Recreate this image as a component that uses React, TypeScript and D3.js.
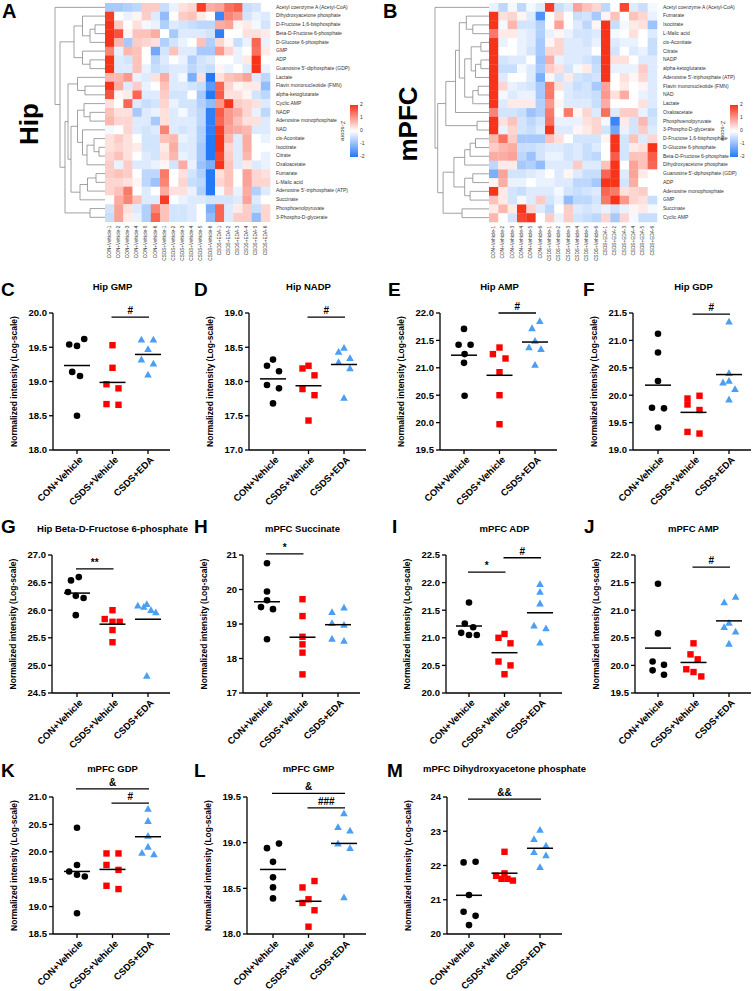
import React from "react";
import * as d3 from "d3";

const FONT = "'Liberation Sans', Arial, Helvetica, sans-serif";

// ---------- Heatmap data ----------
const groups = ["CON+Vehicle", "CSDS+Vehicle", "CSDS+EDA"];
const sampleNames = groups.flatMap((g) => [1, 2, 3, 4, 5, 6].map((i) => `${g}-${i}`));

const hipRows = [
  "Acetyl coenzyme A (Acetyl-CoA)", "Dihydroxyacetone phosphate", "D-Fructose 1,6-bisphosphate",
  "Beta-D-Fructose 6-phosphate", "D-Glucose 6-phosphate", "GMP", "ADP", "Guanosine 5'-diphosphate (GDP)",
  "Lactate", "Flavin mononucleotide (FMN)", "alpha-ketoglutarate", "Cyclic AMP", "NADP",
  "Adenosine monophosphate", "NAD", "cis-Aconitate", "Isocitrate", "Citrate", "Oxaloacetate",
  "Fumarate", "L-Malic acid", "Adenosine 5'-triphosphate (ATP)", "Succinate", "Phosphoenolpyruvate",
  "3-Phospho-D-glycerate",
];
const hipZ = [
  [-0.8, -0.8, -0.7, -0.6, 0.5, 0.5, -0.5, -0.2, 0.3, 0.4, 1.9, 0.8, 0.9, 1.4, 1.6, -0.5, -0.4, 0.0],
  [1.9, 0, -0.2, 0.1, 0.5, -0.3, -1.0, 0, 0.5, 0.6, 0.2, 0, -1.8, 1.2, 1.0, -0.4, -0.2, -0.3],
  [2.0, 0.5, 0, 0.3, -0.1, -0.2, -0.7, -0.3, -0.4, -0.5, -0.6, -0.6, 0.8, 0.9, 0.1, 0.2, -0.1, -0.4],
  [2.0, 1.7, 0.1, 0.6, 0.6, 0.8, 0, -0.8, -0.3, -0.3, -0.3, -0.4, -1.9, 0, 0, 0.3, 0.3, 0.2],
  [2.0, 0.7, -0.8, 0.5, 0.4, 0.3, -0.7, -0.4, -0.2, 0, 0.6, -0.7, 0.4, 0.1, -0.5, -0.2, 1.5, -0.2],
  [1.2, -0.2, 0.7, 0.6, 0, -1.3, -0.4, 0.6, -0.3, -0.3, -0.8, -0.8, 1.0, 0.4, -0.2, 0, 1.4, 0.2],
  [2.0, -0.3, -0.4, 0.6, 0, -0.6, -0.3, 0, -0.2, -0.7, -0.4, -0.3, 0, 0, -0.2, 0.2, 2.0, 0],
  [2.0, -0.3, -0.3, 0.6, -0.2, -0.5, -0.4, -0.3, -0.3, -0.6, -0.4, -0.5, 0.1, -0.2, 0, -0.3, 2.0, -0.2],
  [0.7, 0.7, 1.0, -0.2, -0.3, 0.3, 0.8, -0.3, -0.1, -1.2, 0.3, -2.0, 0.3, 0.6, 0.7, 0.9, -0.3, -0.6],
  [2.0, 0.8, -0.3, 0.5, -0.2, 0, 0.6, -0.3, -0.3, -0.4, -0.5, -1.5, 1.5, 0.4, 0.1, 0.2, 0.2, -1.0],
  [1.7, 0.1, 0.2, 1.5, -0.3, -0.3, 0.5, -0.4, -0.4, 0, -0.8, -2.0, 1.6, 0.3, 0.3, 0.1, -0.4, -0.6],
  [0.3, 0, 1.5, -0.3, -0.5, -0.4, 0.4, -0.2, -0.4, -0.4, -0.7, -1.0, 1.0, 2.0, 0.5, 0.4, 0.3, -0.3],
  [0.6, 0.3, 0.3, -0.8, -0.3, -0.2, 0.3, -0.3, -0.1, -0.4, -0.6, -1.9, 1.6, 1.0, 0.8, 0.4, -0.2, -0.6],
  [0.7, 0.4, 0.4, -0.3, -0.3, -0.8, 0.3, -0.3, -0.3, -0.3, -0.6, -1.9, 1.5, 1.0, 0.6, 0.3, 0.3, -0.3],
  [-0.1, 0, 0.4, -0.3, -0.4, -0.3, 1.2, -0.3, -0.4, -0.3, -0.7, -1.9, 1.9, 0.9, 0.8, 0.7, -0.3, -0.3],
  [0.3, 0.5, 0.3, 0, -0.4, -0.4, 0.6, 0.7, -0.2, -0.3, -0.7, -2.0, 2.0, 0.7, -0.3, 0.8, 0, -0.2],
  [0.3, 0.4, 0.3, 0.2, -0.4, -0.4, 0.2, 0.8, -0.3, -0.3, -0.8, -2.0, 2.0, 0.4, -0.3, 0.8, 0, 0],
  [0.4, 0.6, 0.3, 0, -0.3, -0.4, 0.3, 0.7, -0.2, -0.3, -0.8, -2.0, 1.8, 0.5, -0.3, 0.7, 0, -0.2],
  [0.5, -0.2, 0.5, -0.3, -0.3, -0.2, 0.1, -0.4, 0.8, -0.2, -0.9, -1.2, 2.0, 0.6, -0.3, 0.2, -0.3, -0.2],
  [0.5, 0.6, 0.5, 0, -0.6, -0.6, 1.3, 0, 0.3, -0.4, -0.7, -2.0, 0.3, 0.6, 0, 0.9, 0.4, 0.3],
  [0.4, 0.4, 0.3, 0.1, -0.6, -0.9, 1.2, 0, 0.4, -0.5, -0.6, -2.0, 0.4, 0.6, 0, 0.9, 0.4, 0.4],
  [0.4, 0.6, 1.3, 0, -0.3, 0, 0.8, 0.3, 0.3, -0.2, -0.7, -2.0, -0.1, 0.5, -0.2, 0.8, -0.7, -0.3],
  [0, 0.8, 1.2, 0.6, -0.3, -0.3, 1.9, 0, -0.2, -0.3, -0.3, -0.4, -0.4, -0.4, -0.3, 0.9, -0.3, 0],
  [-0.4, 0.9, 0.3, -0.3, -0.7, 1.2, 0.6, -0.4, -0.4, -0.3, 0, -1.2, 1.5, -0.3, 0.2, 0.5, -0.5, 0.4],
  [-0.5, 0.9, 0.2, -0.2, -0.7, 1.5, 0.6, -0.4, -0.4, -0.3, 0, -1.0, 1.5, -0.3, 0.5, 0.5, -1.0, 0.4],
];
// dendrogram: [height, left, right], leaves are row indices
const hipTree: any = [1.0, 0, [0.9,
  [0.62, [0.45, 1, [0.3, [0.2, 2, 3], 4]], [0.45, 5, [0.3, 6, 7]]],
  [0.8,
    [0.74,
      [0.55, 8, [0.4, 9, 10]],
      [0.68,
        [0.55, [0.42, 11, [0.3, 12, 13]], [0.45, 14, [0.36, [0.22, 15, [0.12, 16, 17]], 18]]],
        [0.5, [0.35, [0.18, 19, 20], 21], 22]]],
    [0.3, 23, 24]]]];

const pfcRows = [
  "Acetyl coenzyme A (Acetyl-CoA)", "Fumarate", "Isocitrate", "L-Malic acid", "cis-Aconitate", "Citrate",
  "NADP", "alpha-ketoglutarate", "Adenosine 5'-triphosphate (ATP)", "Flavin mononucleotide (FMN)", "NAD",
  "Lactate", "Oxaloacetate", "Phosphoenolpyruvate", "3-Phospho-D-glycerate", "D-Fructose 1,6-bisphosphate",
  "D-Glucose 6-phosphate", "Beta-D-Fructose 6-phosphate", "Dihydroxyacetone phosphate",
  "Guanosine 5'-diphosphate (GDP)", "ADP", "Adenosine monophosphate", "GMP", "Succinate", "Cyclic AMP",
];
const pfcZ = [
  [-0.2, -0.6, -0.1, -0.6, -0.1, -0.3, 1.9, -0.5, -0.3, 0.9, 0.6, 0.4, -0.6, 0, 1.8, -0.3, -0.5, -0.1],
  [2.0, 0.3, 0.4, 0.1, -0.3, -1.6, 0, 0.4, 0, -0.5, -0.4, -0.8, 0.1, 0.6, 0, 0.6, 0.4, -0.2],
  [2.0, -0.1, 0.7, -0.4, -0.4, -0.7, 0, 0.9, 0, -0.3, -0.6, 0.1, 2.0, -0.5, -0.1, 0.2, 0.3, -0.9],
  [1.3, 0.2, 0.2, -0.2, -0.3, -0.7, -0.2, 0.1, -0.2, -0.4, -0.4, -0.3, 2.0, -0.1, 0, 0.3, 0, -0.3],
  [2.0, -0.2, 0, -0.2, -0.3, -0.8, 0.1, 0.4, -0.3, -0.3, -0.4, -0.2, 2.0, -0.3, -0.2, -0.2, 0, -0.5],
  [2.0, 0, 0, -0.2, -0.4, -0.8, 0.4, 0.4, -0.3, -0.3, -0.3, 0, 2.0, -0.4, 0, -0.3, -0.2, -0.5],
  [2.0, -0.4, -0.3, -0.3, 0, -0.9, 0.8, -0.2, -0.3, -0.3, -0.4, -0.6, 2.0, 0.3, 0.3, 0, -0.3, -0.3],
  [2.0, -0.5, -0.5, -0.1, -0.3, -0.8, 0.5, 0.3, -0.4, -0.1, 0.2, -0.5, 2.0, -0.2, -0.2, -0.2, 0.5, -0.3],
  [2.0, -0.3, 0, 0, -0.3, -1.2, 0.1, -0.4, 0.2, -0.4, -0.5, -0.4, 2.0, 0, 0.3, 0.1, 0.4, -0.3],
  [2.0, 0.4, -0.2, -0.3, -0.4, -0.8, 1.3, 0.3, -0.3, -0.5, -0.4, -0.8, 0.9, 0, 0.2, 0, 0.1, -0.3],
  [2.0, -0.1, -0.3, -0.2, -0.2, -0.8, 1.3, 0, -0.3, -0.4, -0.4, -0.5, 1.0, 0.3, 0.8, 0, -0.2, -0.3],
  [2.0, -0.3, 0.2, 0.2, 0.2, -0.7, 1.0, 0.1, -0.3, -0.3, -0.3, -0.5, 0.8, 0, 0, 0, 0.3, -0.3],
  [1.2, -0.4, -0.4, -0.5, -0.9, -0.7, 1.3, 0, 1.3, 0.1, 0.4, -0.3, 1.4, -0.3, 0.5, 0.5, -0.2, -0.5],
  [2.0, 0.3, 0.6, -0.4, -0.6, -0.4, 1.4, -0.2, -0.2, -0.2, 0.3, 0.4, -0.1, -1.8, 0.2, -0.4, 0.7, -0.4],
  [2.0, -0.2, 0.4, -0.4, -0.5, -0.3, 2.0, -0.3, -0.3, 0.1, 0.2, 0.4, -0.4, -1.3, -0.2, -0.4, 0.5, -0.3],
  [0.7, 1.4, 0.5, -0.8, -0.8, -0.8, 0.6, 0.3, 0, -0.4, -0.4, -0.4, 0.1, 2.0, -0.4, 0.6, -0.3, 0.4],
  [0.5, 0.7, 0.8, -0.5, -0.5, -0.4, -0.3, -0.3, -0.4, -0.3, -0.5, -0.3, 0, 2.0, -0.4, 0.2, 0.3, 2.0],
  [0.8, 0.8, 0.9, -0.6, -0.9, -0.4, -0.2, -0.2, -0.4, -0.3, -0.5, -0.6, 0, 1.6, -0.4, 0.6, 0.6, 1.6],
  [-0.6, 0.2, 0.2, -0.8, -0.7, -1.0, -0.3, -0.3, -0.3, 0.5, -0.3, -0.3, 0.6, 2.0, 0, 0.9, 0.6, 1.5],
  [-1.2, 0.9, -0.4, -0.4, -0.3, -0.2, 0, -0.3, 0.1, -0.3, -0.5, -0.5, 1.5, 2.0, -0.3, 0.9, 0.2, 0],
  [0.1, 0.8, -0.2, -0.2, 0, -0.2, -0.2, -0.3, -0.3, -0.6, -0.6, -0.8, 2.0, 2.0, -0.4, 0.8, 0, 0],
  [2.0, 0.2, -0.4, -0.5, -0.3, -0.3, -0.3, -0.1, -0.4, -0.5, -0.4, -0.3, 1.5, 1.3, 0.3, 0.4, 0.5, 0],
  [0.6, 0.2, -0.4, -0.1, -0.3, 0.5, -0.4, -0.2, -1.0, -0.6, -0.6, -0.4, 1.3, 2.0, 1.0, 0.4, 0.3, -0.5],
  [0.2, 0.7, 0.2, 2.0, 0.4, -0.3, -0.6, 0, 0.5, -0.3, -0.4, -0.3, -0.2, -0.4, -0.2, 0.1, 0.2, -0.1],
  [0.7, 0, -0.4, 1.8, 2.0, 0, 0.5, -0.2, 0.5, -0.4, -0.5, -0.6, 0.4, -0.8, 0.4, -0.1, -0.5, -0.5],
];
const pfcTree: any = [1.0, 0, [0.95,
  [0.8,
    [0.62,
      [0.55, [0.42, 1, [0.3, 2, 3]],
        [0.45, [0.33, [0.15, 4, 5], [0.25, [0.15, 6, 7], 8]], [0.3, [0.2, 9, 10], 11]]],
      12],
    [0.22, 13, 14]],
  [0.85,
    [0.65, [0.45, [0.35, [0.25, 15, 16], 17], 18], [0.45, [0.3, 19, 20], [0.35, 21, 22]]],
    [0.5, 23, 24]]]];

const zTicks = [2, 1, 0, -1, -2];

// ---------- Scatter data (per group: CON+Vehicle, CSDS+Vehicle, CSDS+EDA) ----------
const hipGMP = [[19.62, 19.54, 19.52, 19.14, 19.08, 18.5], [19.53, 19.2, 18.96, 18.9, 18.67, 18.66], [19.61, 19.61, 19.47, 19.32, 19.26, 19.1]];
const hipGMPJit = [[1.2, -1.3, 0, -0.8, 0.5, 0], [0, 0, -1, 1, -1, 1], [-1.1, 0.9, 0, -1.1, 0.9, 0]];
const hipNADP = [[18.32, 18.23, 18.15, 17.95, 17.9, 17.68], [18.23, 18.19, 18.09, 17.89, 17.8, 17.43], [18.49, 18.43, 18.34, 18.28, 18.19, 17.76]];
const hipNADPJit = [[0, -1, 1, -1, 1, 0], [0, -1, 1, -1, 1, 0], [0, -0.9, 1, -0.9, 1, 0]];
const hipAMP = [[21.71, 21.42, 21.42, 21.25, 21.09, 20.49], [21.37, 21.25, 21.17, 20.92, 20.5, 19.97], [21.85, 21.72, 21.49, 21.37, 21.34, 21.05]];
const hipAMPJit = [[0, -0.9, 1.1, 0.1, 0, 0.1], [0, -1.1, 1, 0, 0, 0], [0.8, -0.5, 0, -1, 1, 0]];
const hipGDP = [[21.12, 20.78, 20.26, 19.77, 19.76, 19.41], [19.99, 19.94, 19.83, 19.73, 19.33, 19.3], [21.34, 20.4, 20.26, 20.23, 20.11, 19.92]];
const hipGDPJit = [[0, 0, 0, -1, 1, 0], [1, -1, -1, 1, -1, 1], [0, 0, 0, -1, 1, 0]];
const hipF6P = [[26.6, 26.54, 26.33, 26.26, 26.22, 25.91], [26.0, 25.84, 25.79, 25.79, 25.64, 25.42], [26.11, 26.08, 26.06, 26.0, 25.96, 24.81]];
const hipF6PJit = [[0.3, -1, -1.5, -0.2, 1.1, -0.2], [0, -1.3, 0, 1.2, 0, 0], [-0.2, -1.7, -0.7, 0.5, 1.3, -0.2]];
const pfcSucc = [[20.76, 19.94, 19.69, 19.49, 19.43, 18.56], [19.72, 19.23, 18.63, 18.41, 18.17, 17.54], [19.47, 19.34, 19.02, 18.97, 18.57, 18.51]];
const pfcSuccJit = [[0, 0, 0, -1, 1, 0], [0, 0, 0, 0, 0, 0], [1, -1, -1, 1, -1, 1]];
const pfcADP = [[21.64, 21.26, 21.19, 21.09, 21.05, 21.05], [21.07, 21.0, 20.9, 20.57, 20.5, 20.34], [21.97, 21.83, 21.62, 21.22, 21.17, 20.91]];
const pfcADPJit = [[0, -0.7, 0.7, -1.3, 0, 1.3], [0, -1, 1, -1, 1, 0], [0, 0, 0, -1, 1, 0]];
const pfcAMP = [[21.48, 20.58, 20.07, 20.01, 19.91, 19.83], [20.4, 20.2, 20.11, 19.93, 19.88, 19.8], [21.24, 21.14, 20.77, 20.69, 20.61, 20.39]];
const pfcAMPJit = [[0, 0, -0.9, 1, -0.9, 1], [0, -0.5, 0.7, -1.2, 0, 1.3], [1.1, -0.8, 0, -0.8, 1.1, 0]];
const pfcGDP = [[20.44, 19.76, 19.64, 19.58, 19.55, 18.88], [19.97, 19.97, 19.76, 19.67, 19.38, 19.32], [20.78, 20.56, 20.29, 20.09, 19.98, 19.95]];
const pfcGDPJit = [[0, 0, -1.3, 0, 1.3, 0], [-1, 1, -1, 1, -1, 1], [0, 0, 0, 0, -1, 1]];
const pfcGMP = [[18.99, 18.94, 18.79, 18.62, 18.51, 18.39], [18.58, 18.51, 18.38, 18.34, 18.26, 18.08], [19.32, 19.17, 19.13, 18.99, 18.94, 18.4]];
const pfcGMPJit = [[1, -1, 0, 0, 0, 0], [1, -1, 0, -1, 1, 0], [0, -1, 1, -1, 1, 0]];
const pfcDHAP = [[22.11, 22.09, 21.14, 20.65, 20.53, 20.26], [22.4, 21.77, 21.7, 21.61, 21.61, 21.56], [23.04, 22.77, 22.58, 22.39, 22.29, 21.95]];
const pfcDHAPJit = [[1.1, -0.9, 0, -0.9, 1.1, 0], [0, 0, -1.4, -0.5, 0.5, 1.4], [0, -1, 1, -1, 1, 0]];

const panelTitles = ["Hip GMP", "Hip NADP", "Hip AMP", "Hip GDP", "Hip Beta-D-Fructose 6-phosphate", "mPFC Succinate",
  "mPFC ADP", "mPFC AMP", "mPFC GDP", "mPFC GMP", "mPFC Dihydroxyacetone phosphate"];
const panelLetters = ["C", "D", "E", "F", "G", "H", "I", "J", "K", "L", "M"];
const panelValues = [hipGMP, hipNADP, hipAMP, hipGDP, hipF6P, pfcSucc, pfcADP, pfcAMP, pfcGDP, pfcGMP, pfcDHAP];
const panelJitter = [hipGMPJit, hipNADPJit, hipAMPJit, hipGDPJit, hipF6PJit, pfcSuccJit, pfcADPJit, pfcAMPJit, pfcGDPJit, pfcGMPJit, pfcDHAPJit];
// axis ranges [min, max, step]
const panelAxes = [[18, 20, 0.5], [17, 19, 0.5], [19.5, 22, 0.5], [19, 21.5, 0.5], [24.5, 27, 0.5], [17, 21, 1],
  [20, 22.5, 0.5], [19.5, 22, 0.5], [18.5, 21, 0.5], [18, 19.5, 0.5], [20, 24, 1]];
// significance: [fromGroup, toGroup, level, label]
const panelSig: [number, number, number, string][][] = [
  [[1, 2, 19.94, "#"]],
  [[1, 2, 18.94, "#"]],
  [[1, 2, 22.0, "#"]],
  [[1, 2, 21.48, "#"]],
  [[0, 1, 26.75, "**"]],
  [[0, 1, 21.03, "*"]],
  [[0, 1, 22.19, "*"], [1, 2, 22.45, "#"]],
  [[1, 2, 21.78, "#"]],
  [[0, 2, 21.15, "&"], [1, 2, 20.89, "#"]],
  [[0, 2, 19.54, "&"], [1, 2, 19.38, "###"]],
  [[0, 2, 23.94, "&&"]],
];

const groupColors = ["#000000", "#ff0000", "#4a9ff5"];

// ---------- Layout (positions only) ----------
const rowFrames = [
  { top: 313, bottom: 450, title: 290, letter: 296 },
  { top: 555, bottom: 693, title: 532, letter: 533 },
  { top: 797, bottom: 934, title: 772, letter: 777 },
];
const panelFrames = [
  { row: 0, axis: 53, cat0: 77, lx: 1 }, { row: 0, axis: 249, cat0: 273, lx: 194 },
  { row: 0, axis: 440, cat0: 464, lx: 388 }, { row: 0, axis: 633, cat0: 658, lx: 583 },
  { row: 1, axis: 52, cat0: 77, lx: 1 }, { row: 1, axis: 243, cat0: 267, lx: 194 },
  { row: 1, axis: 446, cat0: 469, lx: 392 }, { row: 1, axis: 635, cat0: 658, lx: 584 },
  { row: 2, axis: 53, cat0: 77, lx: 1 }, { row: 2, axis: 247, cat0: 273, lx: 194 },
  { row: 2, axis: 447, cat0: 469, lx: 387 },
];
const CAT_STEP = 35.5;
const JIT = 6;

const color = d3.scaleLinear<string>().domain([-2, 0, 2]).range(["#2479f7", "#ffffff", "#f7331a"]).clamp(true);

function dendroPaths(tree: any, rowY: (i: number) => number, xRoot: number, xLeaf: number) {
  const w = xLeaf - xRoot;
  const paths: string[] = [];
  const walk = (n: any): { x: number; y: number } => {
    if (typeof n === "number") return { x: xLeaf, y: rowY(n) };
    const [h, a, b] = n;
    const x = xRoot + (1 - h) * w;
    const pa = walk(a);
    const pb = walk(b);
    paths.push(`M${pa.x},${pa.y}H${x}V${pb.y}H${pb.x}`);
    return { x, y: (pa.y + pb.y) / 2 };
  };
  walk(tree);
  return paths;
}

function Heatmap({ id, rows, z, tree, x0, x1, y0, y1, treeX, cbX, bigLabel, bigX, letter, letterX }: any) {
  const xs = d3.scaleBand<number>().domain(d3.range(sampleNames.length)).range([x0, x1]);
  const ys = d3.scaleBand<number>().domain(d3.range(rows.length)).range([y0, y1]);
  const rowY = (i: number) => (ys(i) as number) + ys.bandwidth() / 2;
  const paths = dendroPaths(tree, rowY, treeX, x0);
  const cbTop = 105, cbBot = 157;
  const cbScale = d3.scaleLinear().domain([2, -2]).range([cbTop, cbBot]);
  return (
    <g>
      <text x={letterX} y={18} fontSize={20} fontWeight="bold" fontFamily={FONT}>{letter}</text>
      <text transform={`translate(${bigX},${124}) rotate(-90)`} textAnchor="middle" dominantBaseline="middle"
        fontSize={26} fontWeight="bold" fontFamily={FONT}>{bigLabel}</text>
      {paths.map((p, i) => <path key={i} d={p} fill="none" stroke="#8a8a8a" strokeWidth={0.8} />)}
      {z.map((row: number[], r: number) => row.map((v: number, c: number) => (
        <rect key={`${r}-${c}`} x={xs(c)} y={ys(r)} width={xs.bandwidth() + 0.3} height={ys.bandwidth() + 0.3} fill={color(v)} />
      )))}
      {rows.map((name: string, r: number) => (
        <text key={name + r} x={x1 + 6} y={rowY(r)} dominantBaseline="middle" fontSize={5} fill="#333" fontFamily={FONT}>{name}</text>
      ))}
      {sampleNames.map((s, c) => (
        <text key={s} transform={`translate(${(xs(c) as number) + xs.bandwidth() / 2},${y1 + 4}) rotate(-90)`}
          textAnchor="end" dominantBaseline="middle" fontSize={4.7} fill="#333" fontFamily={FONT}>{s}</text>
      ))}
      <defs>
        <linearGradient id={id} x1="0" y1="0" x2="0" y2="1">
          {[2, 1, 0, -1, -2].map((v, i) => <stop key={i} offset={`${i * 25}%`} stopColor={color(v)} />)}
        </linearGradient>
      </defs>
      <rect x={cbX} y={cbTop} width={8} height={cbBot - cbTop} fill={`url(#${id})`} />
      {zTicks.map((t) => (
        <text key={t} x={cbX + 10} y={cbScale(t)} dominantBaseline="middle" fontSize={5} fill="#333" fontFamily={FONT}>{t}</text>
      ))}
      <text transform={`translate(${cbX - 7},${(cbTop + cbBot) / 2}) rotate(90)`} textAnchor="middle" dominantBaseline="middle"
        fontSize={6} fill="#333" fontFamily={FONT}>Z-score</text>
    </g>
  );
}

function Scatter({ idx }: { idx: number }) {
  const f = panelFrames[idx];
  const rf = rowFrames[f.row];
  const [lo, hi, step] = panelAxes[idx];
  const y = d3.scaleLinear().domain([lo, hi]).range([rf.bottom, rf.top]);
  const ticks = d3.range(lo, hi + step / 2, step);
  const fmt = step >= 1 ? d3.format("d") : d3.format(".1f");
  const cx = (g: number) => f.cat0 + g * CAT_STEP;
  const xEnd = cx(2) + 22;
  const vals = panelValues[idx];
  const jit = panelJitter[idx];
  const bold = { fontFamily: FONT, fontWeight: "bold" as const };
  return (
    <g>
      <text x={f.lx} y={rf.letter} fontSize={19} {...bold}>{panelLetters[idx]}</text>
      <text x={cx(1)} y={rf.title} textAnchor="middle" fontSize={9.5} {...bold}>{panelTitles[idx]}</text>
      <text transform={`translate(${f.axis - 36},${(rf.top + rf.bottom) / 2}) rotate(-90)`} textAnchor="middle"
        fontSize={8.5} {...bold}>Normalized intensity (Log-scale)</text>
      <line x1={f.axis} x2={f.axis} y1={rf.top} y2={rf.bottom} stroke="#000" strokeWidth={1.3} />
      <line x1={f.axis} x2={xEnd} y1={rf.bottom} y2={rf.bottom} stroke="#000" strokeWidth={1.3} />
      {ticks.map((t) => (
        <g key={t}>
          <line x1={f.axis - 4} x2={f.axis} y1={y(t)} y2={y(t)} stroke="#000" strokeWidth={1.3} />
          <text x={f.axis - 6} y={y(t)} dy="0.35em" textAnchor="end" fontSize={9.5} {...bold}>{fmt(t)}</text>
        </g>
      ))}
      {groups.map((g, gi) => (
        <g key={g}>
          <line x1={cx(gi)} x2={cx(gi)} y1={rf.bottom} y2={rf.bottom + 4} stroke="#000" strokeWidth={1.3} />
          <text transform={`translate(${cx(gi) + 4},${rf.bottom + 8}) rotate(-45)`} textAnchor="end" dy="0.35em"
            fontSize={9.5} {...bold}>{g}</text>
        </g>
      ))}
      {vals.map((arr, gi) => arr.map((v, k) => {
        const px = cx(gi) + jit[gi][k] * JIT;
        const py = y(v);
        if (gi === 0) return <circle key={`${gi}-${k}`} cx={px} cy={py} r={3.3} fill={groupColors[0]} />;
        if (gi === 1) return <rect key={`${gi}-${k}`} x={px - 3.2} y={py - 3.2} width={6.4} height={6.4} fill={groupColors[1]} />;
        return <path key={`${gi}-${k}`} d={`M${px},${py - 4}L${px + 3.8},${py + 2.8}L${px - 3.8},${py + 2.8}Z`} fill={groupColors[2]} />;
      }))}
      {vals.map((arr, gi) => {
        const m = d3.mean(arr) as number;
        return <line key={`m${gi}`} x1={cx(gi) - 13} x2={cx(gi) + 13} y1={y(m)} y2={y(m)} stroke="#000" strokeWidth={1.5} />;
      })}
      {panelSig[idx].map(([a, b, lv, lab], i) => (
        <g key={i}>
          <line x1={cx(a) - 1} x2={cx(b) + 1} y1={y(lv)} y2={y(lv)} stroke="#000" strokeWidth={1.3} />
          <text x={(cx(a) + cx(b)) / 2} y={y(lv) - 3} textAnchor="middle" fontSize={10} {...bold}>{lab}</text>
        </g>
      ))}
    </g>
  );
}

export default function App() {
  return (
    <svg width={754} height={991} style={{ position: "absolute", left: 0, top: 0, background: "#fff" }}>
      <rect width={754} height={991} fill="#fff" />
      <Heatmap id="gradA" rows={hipRows} z={hipZ} tree={hipTree} x0={105} x1={270} y0={3} y1={221.7}
        treeX={55} cbX={350} bigLabel="Hip" bigX={31} letter="A" letterX={2} />
      <Heatmap id="gradB" rows={pfcRows} z={pfcZ} tree={pfcTree} x0={489} x1={657} y0={3} y1={222}
        treeX={435} cbX={730} bigLabel="mPFC" bigX={410} letter="B" letterX={383} />
      {panelTitles.map((_, i) => <Scatter key={i} idx={i} />)}
    </svg>
  );
}
